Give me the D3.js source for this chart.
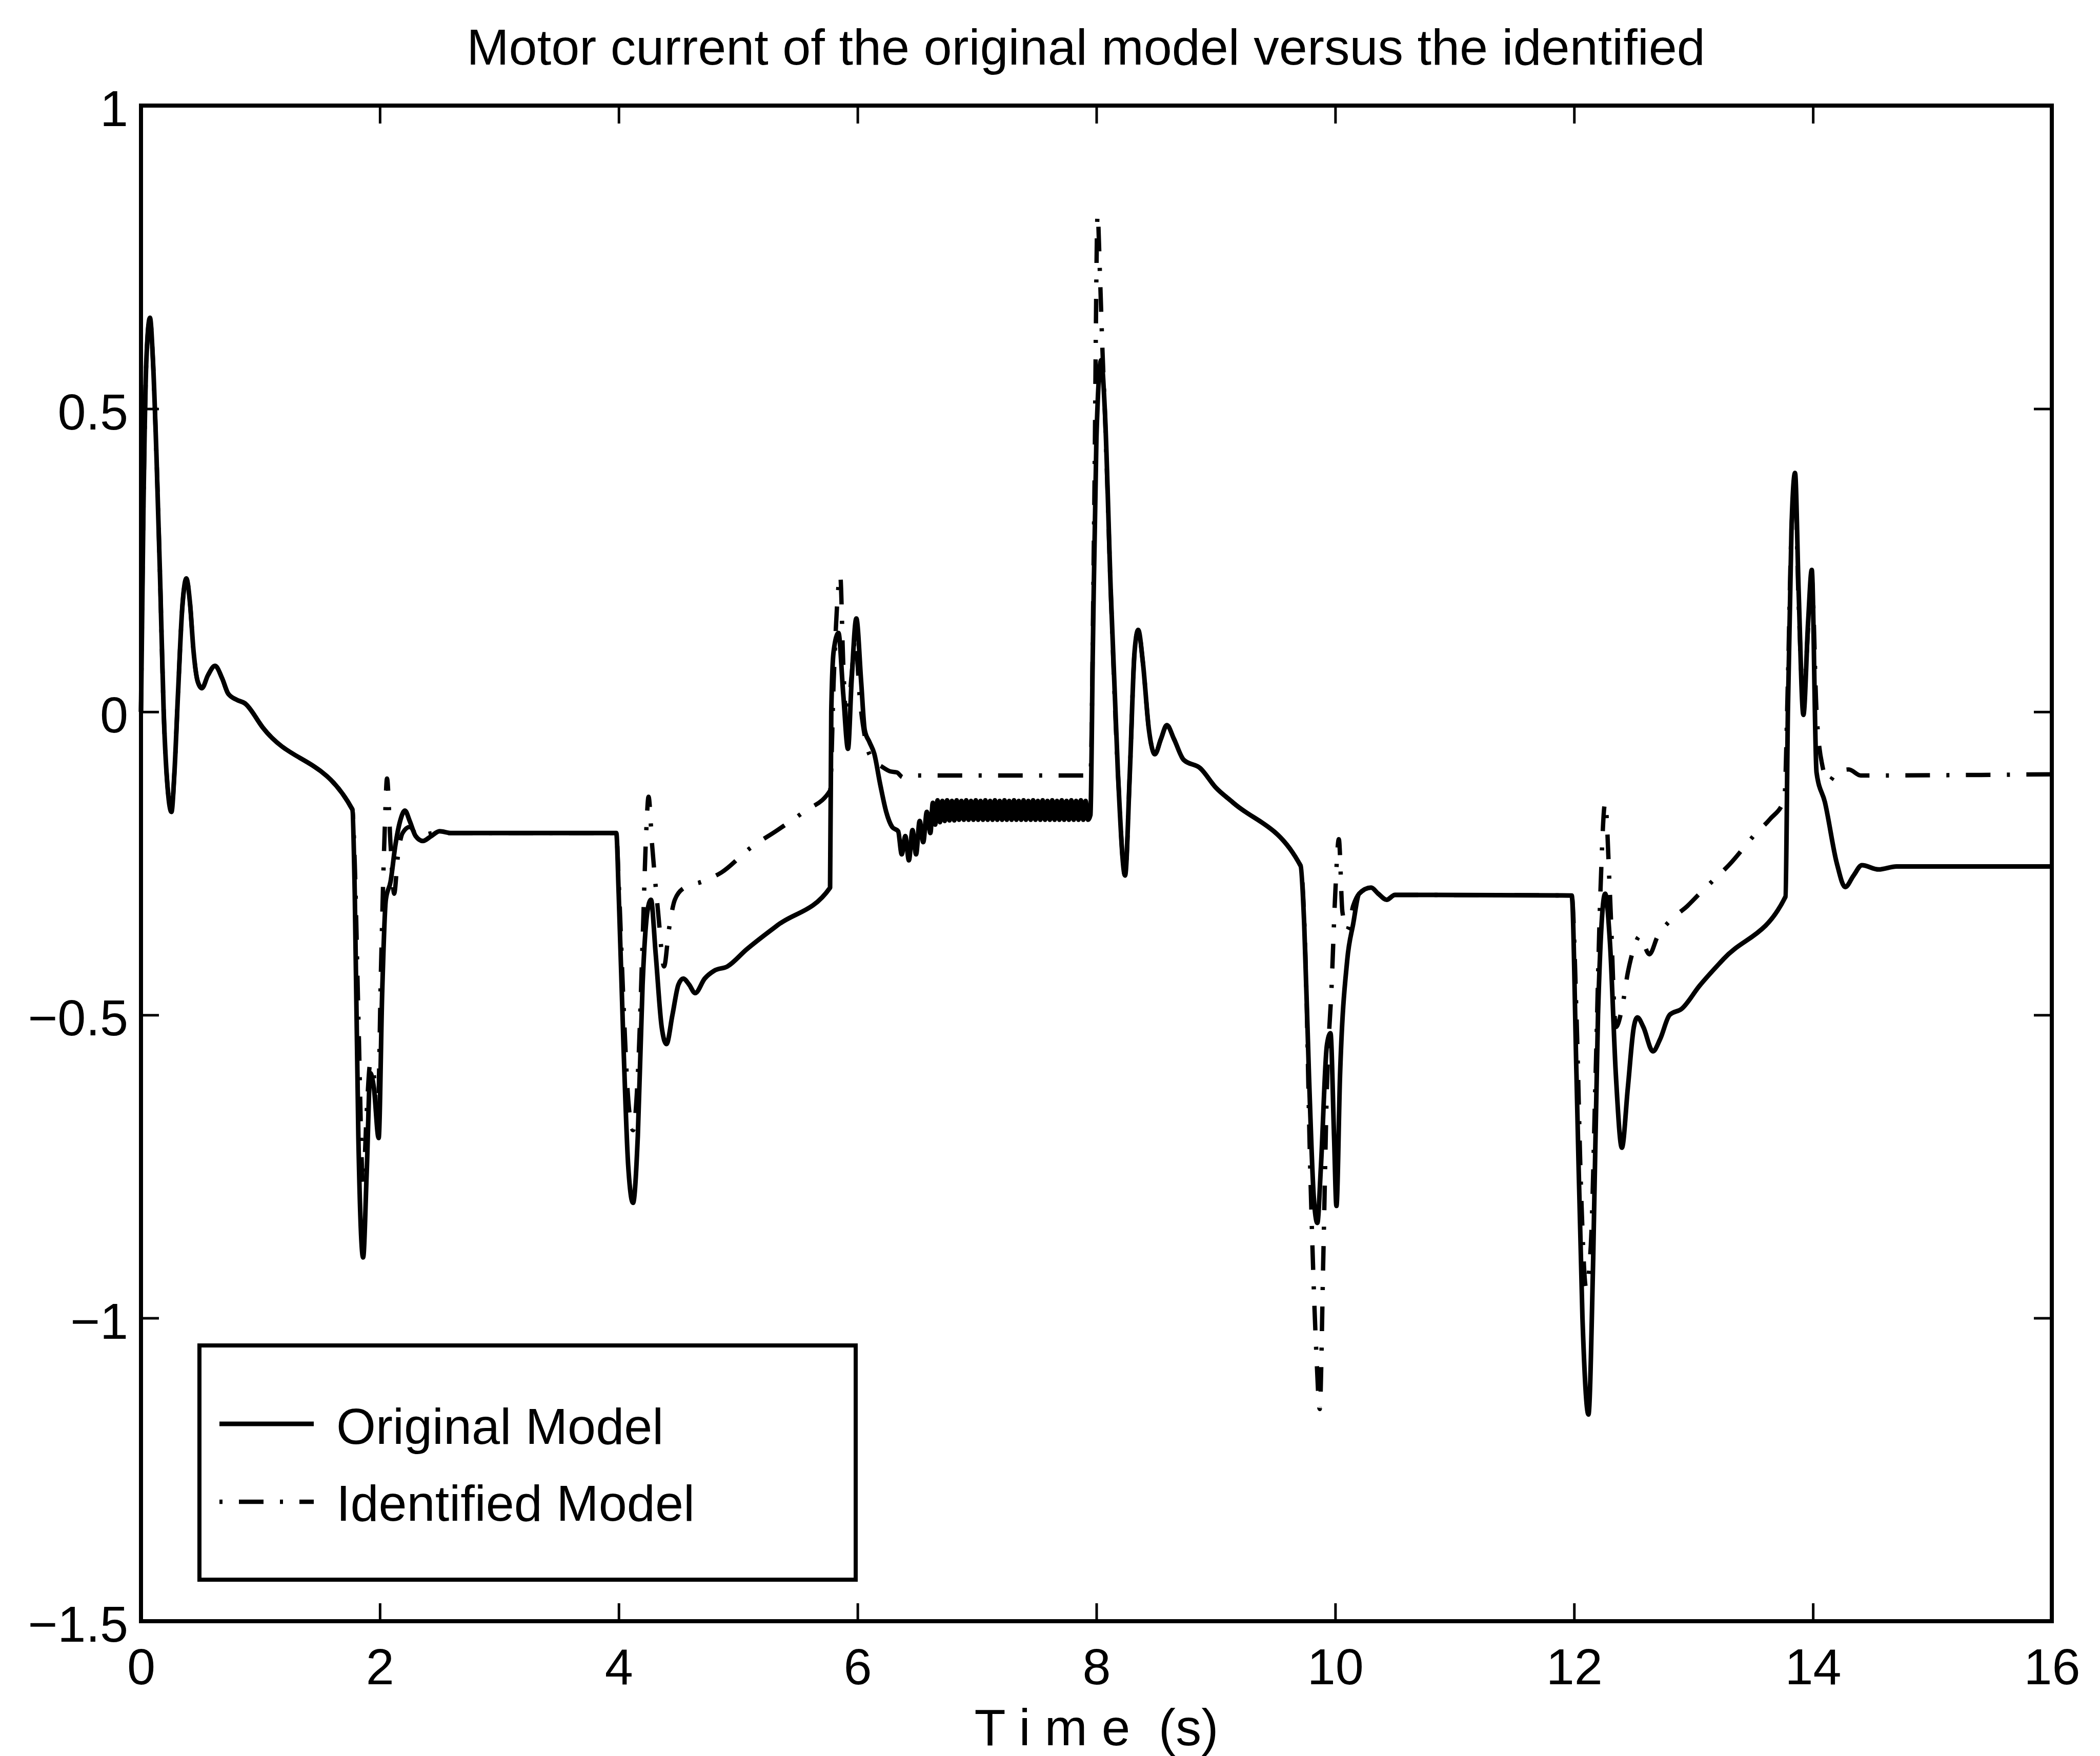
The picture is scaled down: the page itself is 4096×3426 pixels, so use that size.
<!DOCTYPE html>
<html>
<head>
<meta charset="utf-8">
<script src="https://cdn.jsdelivr.net/npm/d3@7"></script>
<style>
  html, body { margin: 0; padding: 0; background: #fff; }
  svg { display: block; }
  text { font-family: "Liberation Sans", Arial, Helvetica, sans-serif; fill: #000; }
</style>
</head>
<body>
<svg id="chart" width="4096" height="3426"></svg>
<script>
// ---- data -------------------------------------------------------------
const titleText = "Motor current of the original model versus the identified";
const xLabelText = "T i m e  (s)";
const seriesNames = ["Original Model", "Identified Model"];

const xTicks = [0, 2, 4, 6, 8, 10, 12, 14, 16];
const xTickLabels = ["0", "2", "4", "6", "8", "10", "12", "14", "16"];
const yTicks = [-1.5, -1, -0.5, 0, 0.5, 1];
const yTickLabels = ["\u22121.5", "\u22121", "\u22120.5", "0", "0.5", "1"];

// [time (s), current]
const originalModel = [
  [0.00, 0.00], [0.02, 0.33], [0.045, 0.58], [0.075, 0.65], [0.10, 0.58], [0.13, 0.42],
  [0.16, 0.22], [0.19, 0.00], [0.225, -0.13], [0.255, -0.165], [0.28, -0.10], [0.31, 0.03],
  [0.345, 0.17], [0.38, 0.22], [0.41, 0.18], [0.44, 0.10], [0.475, 0.05], [0.51, 0.039],
  [0.56, 0.06], [0.62, 0.076], [0.68, 0.055], [0.73, 0.03], [0.80, 0.02], [0.87, 0.014],
  [1.02, -0.026], [1.77, -0.161],
  [1.79, -0.30], [1.82, -0.70], [1.86, -0.90], [1.89, -0.76], [1.92, -0.596], [1.95, -0.62],
  [1.99, -0.703], [2.02, -0.46], [2.05, -0.31], [2.09, -0.28], [2.13, -0.22], [2.17, -0.18],
  [2.21, -0.163], [2.25, -0.18], [2.30, -0.205], [2.36, -0.213], [2.43, -0.205], [2.50, -0.197],
  [2.60, -0.20], [3.98, -0.20],
  [4.00, -0.30], [4.04, -0.55], [4.08, -0.75], [4.12, -0.81], [4.16, -0.70], [4.20, -0.45],
  [4.24, -0.33], [4.27, -0.31], [4.31, -0.40], [4.36, -0.52], [4.40, -0.548], [4.45, -0.50],
  [4.50, -0.45], [4.54, -0.44], [4.59, -0.45], [4.64, -0.464], [4.72, -0.44], [4.80, -0.427],
  [4.91, -0.42], [5.07, -0.392], [5.33, -0.352], [5.77, -0.29],
  [5.78, 0.00], [5.80, 0.10], [5.84, 0.13], [5.88, 0.03], [5.92, -0.061], [5.95, 0.05],
  [5.99, 0.154], [6.03, 0.05], [6.06, -0.03], [6.10, -0.05], [6.14, -0.069], [6.19, -0.12],
  [6.24, -0.165], [6.29, -0.19], [6.34, -0.197], [6.37, -0.235], [6.40, -0.205], [6.43, -0.245],
  [6.46, -0.195], [6.49, -0.235], [6.52, -0.18], [6.55, -0.215], [6.58, -0.165], [6.61, -0.20],
  [6.63, -0.150], [6.65, -0.186], [6.67, -0.146], [6.69, -0.182], [6.71, -0.147], [6.73, -0.180],
  [6.75, -0.146], [6.77, -0.179], [6.79, -0.147], [6.81, -0.179], [6.83, -0.146], [6.85, -0.178],
  [6.87, -0.147], [6.89, -0.178], [6.91, -0.146], [6.93, -0.178], [6.95, -0.147], [6.97, -0.178],
  [6.99, -0.146], [7.01, -0.178], [7.03, -0.147], [7.05, -0.178], [7.07, -0.146], [7.09, -0.178],
  [7.11, -0.147], [7.13, -0.178], [7.15, -0.146], [7.17, -0.178], [7.19, -0.147], [7.21, -0.178],
  [7.23, -0.146], [7.25, -0.178], [7.27, -0.147], [7.29, -0.178], [7.31, -0.146], [7.33, -0.178],
  [7.35, -0.147], [7.37, -0.178], [7.39, -0.146], [7.41, -0.178], [7.43, -0.147], [7.45, -0.178],
  [7.47, -0.146], [7.49, -0.178], [7.51, -0.147], [7.53, -0.178], [7.55, -0.146], [7.57, -0.178],
  [7.59, -0.147], [7.61, -0.178], [7.63, -0.146], [7.65, -0.178], [7.67, -0.147], [7.69, -0.178],
  [7.71, -0.146], [7.73, -0.178], [7.75, -0.147], [7.77, -0.178], [7.79, -0.146], [7.81, -0.178],
  [7.83, -0.147], [7.85, -0.178], [7.87, -0.146], [7.89, -0.178], [7.91, -0.147], [7.93, -0.178],
  [7.95, -0.17], [7.97, 0.10], [8.00, 0.45], [8.04, 0.58], [8.07, 0.50], [8.12, 0.20],
  [8.18, -0.10], [8.24, -0.27], [8.28, -0.10], [8.32, 0.10], [8.35, 0.135], [8.39, 0.08],
  [8.44, -0.03], [8.49, -0.07], [8.54, -0.045], [8.59, -0.022], [8.65, -0.045], [8.73, -0.079],
  [8.87, -0.093], [9.00, -0.125], [9.14, -0.149], [9.71, -0.254],
  [9.74, -0.35], [9.78, -0.60], [9.82, -0.80], [9.85, -0.843], [9.88, -0.75], [9.93, -0.55],
  [9.96, -0.53], [9.99, -0.70], [10.01, -0.815], [10.04, -0.60], [10.10, -0.41], [10.15, -0.35],
  [10.20, -0.30], [10.30, -0.29], [10.36, -0.30], [10.43, -0.31], [10.50, -0.302], [11.98, -0.303],
  [12.02, -0.60], [12.07, -1.00], [12.12, -1.159], [12.16, -0.90], [12.20, -0.50], [12.26, -0.30],
  [12.30, -0.38], [12.35, -0.60], [12.40, -0.719], [12.45, -0.62], [12.50, -0.52], [12.53, -0.504],
  [12.58, -0.52], [12.66, -0.56], [12.72, -0.54], [12.80, -0.50], [12.90, -0.49], [13.05, -0.452],
  [13.25, -0.408], [13.77, -0.305],
  [13.79, 0.00], [13.82, 0.30], [13.85, 0.394], [13.88, 0.20], [13.92, -0.005], [13.96, 0.15],
  [13.99, 0.234], [14.03, -0.10], [14.10, -0.149], [14.20, -0.25], [14.27, -0.289], [14.34, -0.27],
  [14.41, -0.253], [14.55, -0.26], [14.70, -0.255], [16.00, -0.255]
];

const identifiedModel = [
  [0.00, 0.00], [0.02, 0.33], [0.045, 0.58], [0.075, 0.65], [0.10, 0.58], [0.13, 0.42],
  [0.16, 0.22], [0.19, 0.00], [0.225, -0.13], [0.255, -0.165], [0.28, -0.10], [0.31, 0.03],
  [0.345, 0.17], [0.38, 0.22], [0.41, 0.18], [0.44, 0.10], [0.475, 0.05], [0.51, 0.039],
  [0.56, 0.06], [0.62, 0.076], [0.68, 0.055], [0.73, 0.03], [0.80, 0.02], [0.87, 0.014],
  [1.02, -0.026], [1.77, -0.161],
  [1.79, -0.25], [1.82, -0.50], [1.86, -0.78], [1.89, -0.66], [1.92, -0.58], [1.95, -0.60],
  [1.98, -0.68], [2.01, -0.42], [2.04, -0.20], [2.06, -0.11], [2.09, -0.22], [2.12, -0.30],
  [2.15, -0.24], [2.19, -0.20], [2.25, -0.19], [2.32, -0.205], [2.45, -0.20], [3.98, -0.20],
  [4.00, -0.28], [4.04, -0.48], [4.08, -0.64], [4.12, -0.69], [4.16, -0.60], [4.20, -0.38],
  [4.23, -0.20], [4.25, -0.14], [4.28, -0.22], [4.33, -0.33], [4.38, -0.42], [4.42, -0.36],
  [4.47, -0.31], [4.55, -0.29], [4.70, -0.28], [4.86, -0.265], [5.10, -0.225], [5.33, -0.195],
  [5.55, -0.165], [5.77, -0.13],
  [5.80, 0.05], [5.83, 0.18], [5.855, 0.225], [5.88, 0.08], [5.91, -0.02], [5.95, 0.06],
  [5.98, 0.12], [6.02, 0.02], [6.07, -0.05], [6.13, -0.08], [6.20, -0.09], [6.27, -0.098],
  [6.33, -0.10], [6.38, -0.108], [6.45, -0.105], [7.95, -0.105],
  [7.98, 0.30], [8.01, 0.82], [8.03, 0.72], [8.05, 0.60], [8.07, 0.50], [8.12, 0.20],
  [8.18, -0.10], [8.24, -0.27], [8.28, -0.10], [8.32, 0.10], [8.35, 0.135], [8.39, 0.08],
  [8.44, -0.03], [8.49, -0.07], [8.54, -0.045], [8.59, -0.022], [8.65, -0.045], [8.73, -0.079],
  [8.87, -0.093], [9.00, -0.125], [9.14, -0.149], [9.71, -0.254],
  [9.75, -0.40], [9.79, -0.75], [9.84, -1.05], [9.87, -1.15], [9.90, -0.90], [9.93, -0.62],
  [9.97, -0.45], [10.00, -0.30], [10.03, -0.21], [10.06, -0.33], [10.10, -0.36], [10.15, -0.32],
  [10.20, -0.30], [10.30, -0.29], [10.36, -0.30], [10.43, -0.31], [10.50, -0.302], [11.98, -0.303],
  [12.02, -0.50], [12.06, -0.80], [12.10, -0.95], [12.14, -0.88], [12.18, -0.60], [12.22, -0.30],
  [12.26, -0.15], [12.30, -0.30], [12.35, -0.52], [12.40, -0.49], [12.45, -0.43], [12.50, -0.39],
  [12.55, -0.37], [12.63, -0.40], [12.70, -0.37], [12.80, -0.345], [12.95, -0.32], [13.05, -0.30],
  [13.17, -0.277], [13.30, -0.252], [13.52, -0.201], [13.64, -0.177], [13.76, -0.145],
  [13.79, 0.05], [13.82, 0.30], [13.85, 0.37], [13.88, 0.18], [13.92, 0.02], [13.96, 0.14],
  [13.99, 0.22], [14.03, 0.00], [14.08, -0.09], [14.13, -0.115], [14.20, -0.10], [14.30, -0.095],
  [14.40, -0.105], [16.00, -0.103]
];

// ---- layout -----------------------------------------------------------
const svg = d3.select("#chart");
svg.append("rect").attr("width", 4096).attr("height", 3426).attr("fill", "#fff");

const plot = { left: 275, right: 4002, top: 206, bottom: 3163 };
const fontSize = 99;
const tickLen = 35;

const x = d3.scaleLinear().domain([0, 16]).range([plot.left, plot.right]);
const y = d3.scaleLinear().domain([-1.5, 1]).range([plot.bottom, plot.top]);

// ---- curves -----------------------------------------------------------
const line = d3.line()
  .x(d => x(d[0]))
  .y(d => y(d[1]))
  .curve(d3.curveMonotoneX);

const dashDot = "48,32,6,32";

svg.append("path")
  .datum(originalModel)
  .attr("d", line)
  .attr("fill", "none")
  .attr("stroke", "#000")
  .attr("stroke-width", 9)
  .attr("stroke-linejoin", "round");

svg.append("path")
  .datum(identifiedModel)
  .attr("d", line)
  .attr("fill", "none")
  .attr("stroke", "#000")
  .attr("stroke-width", 8.5)
  .attr("stroke-dasharray", dashDot);

// ---- axes -------------------------------------------------------------
function styleAxis(g) {
  g.select(".domain").remove();
  g.attr("font-family", null).attr("font-size", null);
  g.selectAll(".tick line").attr("stroke", "#000").attr("stroke-width", 5);
  g.selectAll(".tick text").attr("font-size", fontSize).attr("fill", "#000");
}

svg.append("g")
  .attr("transform", `translate(0,${plot.bottom})`)
  .call(d3.axisBottom(x).tickValues(xTicks)
    .tickFormat((d, i) => xTickLabels[i]).tickSize(-tickLen).tickPadding(53))
  .call(styleAxis);

svg.append("g")
  .attr("transform", `translate(0,${plot.top})`)
  .call(d3.axisTop(x).tickValues(xTicks).tickFormat(() => "").tickSize(-tickLen))
  .call(styleAxis);

svg.append("g")
  .attr("transform", `translate(${plot.left},0)`)
  .call(d3.axisLeft(y).tickValues(yTicks)
    .tickFormat((d, i) => yTickLabels[i]).tickSize(-tickLen).tickPadding(25))
  .call(styleAxis)
  .call(g => g.selectAll(".tick text").attr("dy", "0.40em"));

svg.append("g")
  .attr("transform", `translate(${plot.right},0)`)
  .call(d3.axisRight(y).tickValues(yTicks).tickFormat(() => "").tickSize(-tickLen))
  .call(styleAxis);

// plot frame
svg.append("rect")
  .attr("x", plot.left).attr("y", plot.top)
  .attr("width", plot.right - plot.left).attr("height", plot.bottom - plot.top)
  .attr("fill", "none").attr("stroke", "#000").attr("stroke-width", 8);

// ---- title & axis label ------------------------------------------------
svg.append("text")
  .attr("x", 2118).attr("y", 126)
  .attr("text-anchor", "middle")
  .attr("font-size", fontSize)
  .text(titleText);

svg.append("text")
  .attr("x", (plot.left + plot.right) / 2).attr("y", 3405)
  .attr("text-anchor", "middle")
  .attr("font-size", 100)
  .style("white-space", "pre")
  .text(xLabelText);

// ---- legend -----------------------------------------------------------
const legend = svg.append("g");
legend.append("rect")
  .attr("x", 389).attr("y", 2625).attr("width", 1280).attr("height", 457)
  .attr("fill", "#fff").attr("stroke", "#000").attr("stroke-width", 8);

const legendRows = [
  { name: seriesNames[0], lineY: 2778, textY: 2817, dash: null, width: 9 },
  { name: seriesNames[1], lineY: 2930, textY: 2967, dash: dashDot, width: 8.5 }
];

legendRows.forEach(r => {
  const l = legend.append("line")
    .attr("x1", 428).attr("x2", 612)
    .attr("y1", r.lineY).attr("y2", r.lineY)
    .attr("stroke", "#000").attr("stroke-width", r.width);
  if (r.dash) l.attr("stroke-dasharray", r.dash).attr("stroke-dashoffset", 80);
  legend.append("text")
    .attr("x", 656).attr("y", r.textY)
    .attr("font-size", fontSize)
    .text(r.name);
});
</script>
</body>
</html>
